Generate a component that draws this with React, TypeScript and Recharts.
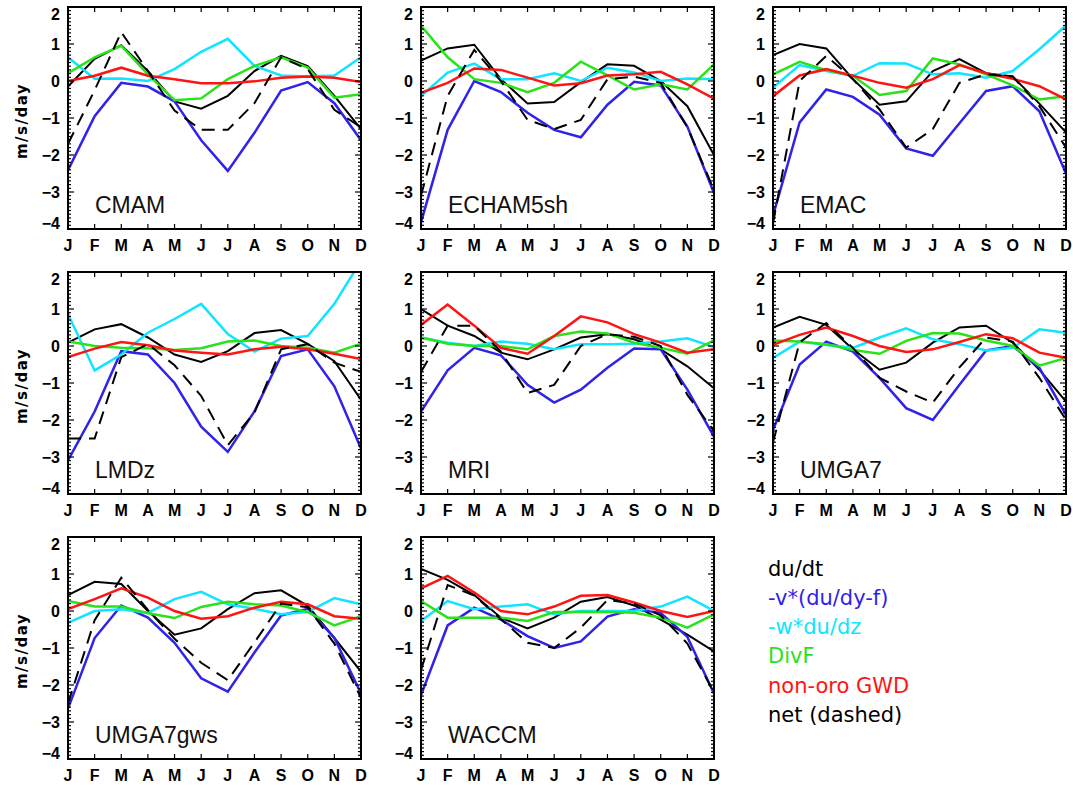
import React from "react"
import { LineChart, Line, XAxis, YAxis } from "recharts"

const months = ["J", "F", "M", "A", "M", "J", "J", "A", "S", "O", "N", "D"]

// CMAM
const cmamDudt = [-0.15, 0.6, 0.97, 0.27, -0.55, -0.75, -0.4, 0.27, 0.68, 0.4, -0.4, -1.3]
const cmamVterm = [-2.41, -0.95, -0.05, -0.15, -0.55, -1.6, -2.43, -1.4, -0.26, -0.03, -0.6, -1.6]
const cmamWterm = [0.64, 0.06, 0.07, 0.0, 0.32, 0.79, 1.14, 0.41, 0.15, 0.12, 0.15, 0.64]
const cmamDivF = [0.21, 0.64, 0.95, 0.18, -0.52, -0.47, 0.05, 0.41, 0.64, 0.36, -0.45, -0.36]
const cmamGwd = [0.0, 0.14, 0.36, 0.14, 0.05, -0.06, -0.06, -0.01, 0.09, 0.12, 0.09, -0.03]
const cmamNet = [-1.7, -0.25, 1.32, 0.27, -0.8, -1.32, -1.32, -0.6, 0.64, 0.32, -0.78, -1.25]

// ECHAM5sh
const echamDudt = [0.55, 0.88, 0.98, 0.05, -0.61, -0.57, -0.03, 0.45, 0.41, 0.0, -0.68, -2.0]
const echamVterm = [-3.82, -1.32, 0.0, -0.3, -0.86, -1.32, -1.52, -0.64, -0.02, -0.12, -1.23, -3.03]
const echamWterm = [-0.41, 0.23, 0.47, 0.05, 0.05, 0.21, 0.0, 0.36, 0.23, 0.0, 0.07, 0.05]
const echamDivF = [1.5, 0.64, 0.05, -0.05, -0.3, -0.05, 0.52, 0.15, -0.23, -0.09, -0.23, 0.45]
const echamGwd = [-0.32, -0.05, 0.34, 0.3, 0.09, -0.12, -0.06, 0.15, 0.18, 0.25, -0.09, -0.48]
const echamNet = [-3.1, -0.4, 0.84, 0.0, -1.05, -1.3, -1.05, 0.05, 0.12, -0.05, -1.25, -2.95]

// EMAC
const emacDudt = [0.7, 1.0, 0.88, 0.05, -0.64, -0.55, 0.27, 0.59, 0.21, 0.12, -0.61, -1.39]
const emacVterm = [-3.64, -1.12, -0.23, -0.43, -0.91, -1.82, -2.02, -1.14, -0.27, -0.14, -0.82, -2.5]
const emacWterm = [-0.18, 0.43, 0.27, 0.14, 0.48, 0.47, 0.18, 0.21, 0.09, 0.27, 0.86, 1.5]
const emacDivF = [0.18, 0.52, 0.29, 0.14, -0.38, -0.27, 0.61, 0.45, 0.18, -0.12, -0.5, -0.41]
const emacGwd = [-0.41, 0.15, 0.32, 0.14, -0.05, -0.18, 0.05, 0.43, 0.21, 0.06, -0.14, -0.5]
const emacNet = [-3.85, 0.0, 0.68, 0.05, -0.77, -1.8, -1.3, -0.05, 0.18, 0.12, -0.68, -1.8]

// LMDz
const lmdzDudt = [0.09, 0.45, 0.59, 0.23, -0.23, -0.43, -0.14, 0.35, 0.43, 0.06, -0.41, -1.45]
const lmdzVterm = [-3.09, -1.77, -0.14, -0.23, -1.0, -2.18, -2.86, -1.77, -0.27, -0.09, -1.09, -2.77]
const lmdzWterm = [0.86, -0.66, -0.23, 0.36, 0.73, 1.14, 0.32, -0.15, 0.2, 0.27, 1.14, 2.3]
const lmdzDivF = [0.12, 0.0, -0.05, -0.06, -0.11, -0.06, 0.12, 0.15, 0.0, -0.05, -0.18, 0.06]
const lmdzGwd = [-0.3, -0.07, 0.11, 0.02, -0.12, -0.18, -0.23, -0.09, -0.02, -0.09, -0.21, -0.35]
const lmdzNet = [-2.5, -2.5, -0.3, 0.05, -0.52, -1.35, -2.68, -1.8, -0.09, 0.05, -0.45, -0.7]

// MRI
const mriDudt = [1.0, 0.55, 0.27, -0.18, -0.36, -0.09, 0.23, 0.32, 0.18, -0.09, -0.55, -1.14]
const mriVterm = [-1.77, -0.66, -0.05, -0.25, -1.05, -1.53, -1.18, -0.59, -0.07, -0.09, -1.18, -2.45]
const mriWterm = [0.23, 0.09, 0.0, 0.12, 0.06, -0.09, 0.05, 0.05, 0.06, 0.12, 0.21, -0.03]
const mriDivF = [0.23, 0.06, 0.0, 0.0, -0.09, 0.27, 0.39, 0.34, 0.09, -0.05, -0.21, 0.15]
const mriGwd = [0.57, 1.12, 0.55, -0.05, -0.21, 0.27, 0.8, 0.64, 0.32, 0.09, -0.18, -0.09]
const mriNet = [-0.7, 0.55, 0.55, -0.15, -1.27, -1.05, 0.0, 0.32, 0.25, 0.0, -1.32, -2.3]

// UMGA7
const umgaDudt = [0.5, 0.79, 0.57, -0.09, -0.64, -0.45, 0.09, 0.5, 0.55, 0.09, -0.64, -1.5]
const umgaVterm = [-2.27, -0.5, 0.12, -0.15, -0.86, -1.68, -2.0, -1.05, -0.12, 0.0, -0.59, -1.86]
const umgaWterm = [-0.32, 0.12, 0.03, -0.05, 0.23, 0.48, 0.18, 0.05, -0.12, -0.05, 0.45, 0.36]
const umgaDivF = [0.15, 0.12, 0.05, -0.11, -0.21, 0.14, 0.35, 0.34, 0.15, 0.0, -0.53, -0.32]
const umgaGwd = [0.03, 0.3, 0.5, 0.27, 0.0, -0.16, -0.09, 0.11, 0.32, 0.21, -0.18, -0.32]
const umgaNet = [-2.6, 0.1, 0.62, -0.05, -0.86, -1.23, -1.53, -0.58, 0.23, 0.12, -0.86, -2.0]

// UMGA7gws
const gwsDudt = [0.43, 0.79, 0.73, 0.0, -0.64, -0.47, 0.05, 0.48, 0.56, 0.14, -0.73, -1.64]
const gwsVterm = [-2.64, -0.73, 0.15, -0.18, -0.86, -1.82, -2.18, -1.12, -0.12, 0.06, -0.73, -2.23]
const gwsWterm = [-0.32, 0.0, 0.05, -0.05, 0.32, 0.52, 0.18, 0.06, -0.09, -0.03, 0.35, 0.18]
const gwsDivF = [0.27, 0.12, 0.12, -0.06, -0.19, 0.11, 0.25, 0.18, 0.15, -0.03, -0.39, -0.14]
const gwsGwd = [0.05, 0.32, 0.61, 0.36, 0.0, -0.21, -0.14, 0.09, 0.25, 0.18, -0.14, -0.21]
const gwsNet = [-2.5, -0.25, 0.9, 0.03, -0.75, -1.4, -1.87, -0.85, 0.2, 0.1, -0.88, -2.35]

// WACCM
const waccmDudt = [1.14, 0.84, 0.43, -0.18, -0.47, -0.18, 0.25, 0.38, 0.15, -0.23, -0.64, -1.09]
const waccmVterm = [-2.27, -0.39, 0.09, -0.23, -0.68, -1.0, -0.82, -0.15, 0.05, -0.05, -0.7, -2.23]
const waccmWterm = [-0.27, 0.27, 0.05, 0.12, 0.18, -0.09, 0.0, 0.0, 0.0, 0.12, 0.39, 0.0]
const waccmDivF = [0.27, -0.18, -0.18, -0.18, -0.27, -0.03, -0.03, -0.03, -0.05, -0.18, -0.45, -0.09]
const waccmGwd = [0.61, 0.95, 0.5, 0.0, -0.09, 0.12, 0.41, 0.43, 0.23, 0.0, -0.16, 0.0]
const waccmNet = [-1.6, 0.7, 0.42, -0.22, -0.86, -1.0, -0.45, 0.3, 0.2, -0.12, -0.88, -2.2]

const seriesKeys = ["dudt", "vterm", "wterm", "divF", "gwd", "net"]
const seriesLabels = ["du/dt", "-v*(du/dy-f)", "-w*du/dz", "DivF", "non-oro GWD", "net (dashed)"]
const seriesColors = ["#000000", "#2f22ea", "#10e4ff", "#2ae21a", "#ff1414", "#000000"]

const panels = [
  { name: "CMAM", row: 0, col: 0, series: [cmamDudt, cmamVterm, cmamWterm, cmamDivF, cmamGwd, cmamNet] },
  { name: "ECHAM5sh", row: 0, col: 1, series: [echamDudt, echamVterm, echamWterm, echamDivF, echamGwd, echamNet] },
  { name: "EMAC", row: 0, col: 2, series: [emacDudt, emacVterm, emacWterm, emacDivF, emacGwd, emacNet] },
  { name: "LMDz", row: 1, col: 0, series: [lmdzDudt, lmdzVterm, lmdzWterm, lmdzDivF, lmdzGwd, lmdzNet] },
  { name: "MRI", row: 1, col: 1, series: [mriDudt, mriVterm, mriWterm, mriDivF, mriGwd, mriNet] },
  { name: "UMGA7", row: 1, col: 2, series: [umgaDudt, umgaVterm, umgaWterm, umgaDivF, umgaGwd, umgaNet] },
  { name: "UMGA7gws", row: 2, col: 0, series: [gwsDudt, gwsVterm, gwsWterm, gwsDivF, gwsGwd, gwsNet] },
  { name: "WACCM", row: 2, col: 1, series: [waccmDudt, waccmVterm, waccmWterm, waccmDivF, waccmGwd, waccmNet] },
]

const monthIdx = months.map((_, i) => i)
const yTicks: number[] = []
for (let k = -40; k <= 20; k++) yTicks.push(k / 10)

// layout
const COL_X = [68, 421, 773]
const ROW_Y = [7, 272, 537]
const BOX_W = 293
const BOX_H = 222
const AX_W = 40
const PAD_T = 10
const PAD_R = 15
const X_H = 30

const tickFont = "'Liberation Sans', Arial, Helvetica, sans-serif"

const fmtY = (v: number) => (v < 0 ? "\u2212" + Math.abs(v) : String(v))

function YTick(props: any) {
  const { y, payload } = props
  const v = payload.value
  const major = Math.abs(v - Math.round(v)) < 1e-6
  const len = major ? 6 : 3
  let ly = y
  if (major && Math.round(v) === 2) ly += 7
  if (major && Math.round(v) === -4) ly -= 6
  return (
    <g>
      <line x1={AX_W} x2={AX_W + len} y1={y} y2={y} stroke="#000" strokeWidth={1.2} />
      <line x1={AX_W + BOX_W} x2={AX_W + BOX_W - len} y1={y} y2={y} stroke="#000" strokeWidth={1.2} />
      {major && (
        <text x={AX_W - 8} y={ly} dy="0.36em" textAnchor="end" fontFamily={tickFont} fontWeight="bold" fontSize={16} fill="#000">
          {fmtY(Math.round(v))}
        </text>
      )}
    </g>
  )
}

function XTick(props: any) {
  const { x, payload } = props
  const bottom = PAD_T + BOX_H
  return (
    <g>
      <line x1={x} x2={x} y1={bottom} y2={bottom - 5} stroke="#000" strokeWidth={1.2} />
      <line x1={x} x2={x} y1={PAD_T} y2={PAD_T + 5} stroke="#000" strokeWidth={1.2} />
      <text x={x} y={bottom + 16} dy="0.36em" textAnchor="middle" fontFamily={tickFont} fontWeight="bold" fontSize={16} fill="#000">
        {months[payload.value]}
      </text>
    </g>
  )
}

function Panel({ p }: { p: any }) {
  const rows = months.map((m, i) => {
    const r: any = { i, month: m }
    seriesKeys.forEach((k, s) => {
      r[k] = p.series[s][i]
    })
    return r
  })
  const left = COL_X[p.col]
  const top = ROW_Y[p.row]
  return (
    <>
      <div style={{ position: "absolute", left: left - AX_W, top: top - PAD_T }}>
        <LineChart
          width={AX_W + BOX_W + PAD_R}
          height={PAD_T + BOX_H + X_H}
          data={rows}
          margin={{ top: PAD_T, right: PAD_R, bottom: 0, left: 0 }}
        >
          <XAxis
            type="number"
            dataKey="i"
            domain={[0, 11]}
            ticks={monthIdx}
            interval={0}
            tick={XTick}
            tickLine={false}
            axisLine={false}
            height={X_H}
            allowDataOverflow
          />
          <YAxis
            type="number"
            domain={[-4, 2]}
            ticks={yTicks}
            interval={0}
            tick={YTick}
            tickLine={false}
            axisLine={false}
            width={AX_W}
            allowDataOverflow
          />
          {seriesKeys.map((k, s) => (
            <Line
              key={k}
              type="linear"
              dataKey={k}
              stroke={seriesColors[s]}
              strokeWidth={s === 0 || s === 5 ? 2 : 2.5}
              strokeDasharray={s === 5 ? "13 8" : undefined}
              dot={false}
              activeDot={false}
              isAnimationActive={false}
            />
          ))}
        </LineChart>
      </div>
      <svg
        style={{ position: "absolute", left: left - 1, top: top - 1, overflow: "visible" }}
        width={BOX_W + 2}
        height={BOX_H + 2}
      >
        <rect x={1} y={1} width={BOX_W} height={BOX_H} fill="none" stroke="#000" strokeWidth={2} />
        <text x={28} y={207} fontFamily={tickFont} fontSize={23} fill="#111">
          {p.name}
        </text>
      </svg>
      {p.col === 0 && (
        <svg style={{ position: "absolute", left: 0, top: top }} width={46} height={BOX_H}>
          <text
            transform={`translate(22, ${BOX_H / 2 + 3}) rotate(-90)`}
            textAnchor="middle"
            dominantBaseline="central"
            fontFamily="'DejaVu Sans', sans-serif"
            fontWeight="bold"
            fontSize={15}
            letterSpacing={1.5}
            fill="#000"
          >
            m/s/day
          </text>
        </svg>
      )}
    </>
  )
}

const legendBaselines = [576, 605, 634, 663, 693, 722]

export default function App() {
  return (
    <div style={{ position: "absolute", left: 0, top: 0, width: 1073, height: 785, background: "#fff" }}>
      {panels.map((p) => (
        <Panel key={p.name} p={p} />
      ))}
      <svg style={{ position: "absolute", left: 760, top: 550 }} width={310} height={190}>
        {seriesLabels.map((label, s) => (
          <text
            key={label}
            x={8}
            y={legendBaselines[s] - 550}
            fontFamily="'DejaVu Sans', sans-serif"
            fontSize={21}
            fill={seriesColors[s]}
          >
            {label}
          </text>
        ))}
      </svg>
    </div>
  )
}
